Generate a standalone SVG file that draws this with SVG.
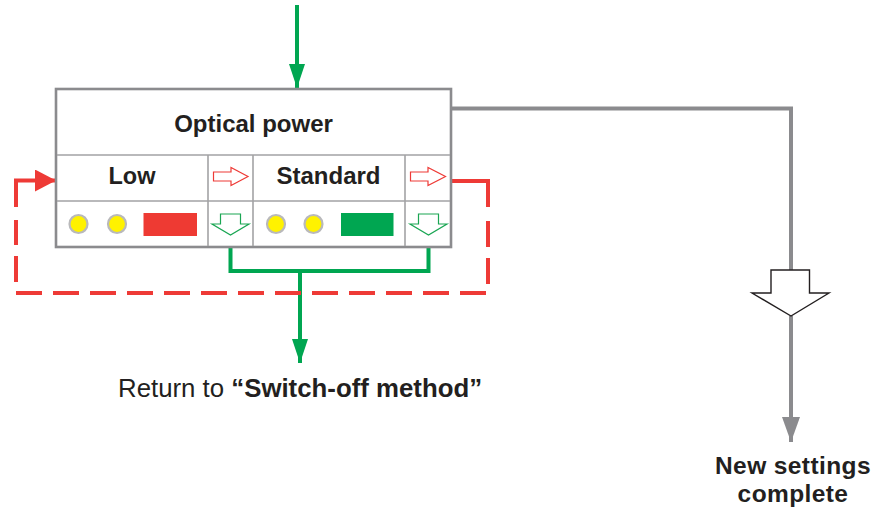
<svg xmlns="http://www.w3.org/2000/svg" width="886" height="515" viewBox="0 0 886 515">
<style>
.txt{font-family:"Liberation Sans",Arial,sans-serif;fill:#231f20}
.b{font-weight:bold}
.grid{stroke:#a3a3a5;stroke-width:1.6;fill:none}
.frame{stroke:#8b8b8e;stroke-width:2.6;fill:#fff}
.lamp{fill:#fff200;stroke:#b9b9bb;stroke-width:2.2}
.redarr{fill:#fff;stroke:#ee3a36;stroke-width:1.2}
.grnarr{fill:#fff;stroke:#1aa653;stroke-width:1.2}
.green{stroke:#00a651;stroke-width:4;fill:none}
.red{stroke:#ee3a36;stroke-width:4;fill:none}
.gray{stroke:#8b8b8e;stroke-width:4;fill:none}
</style>
<defs>
<marker id="mg" markerUnits="userSpaceOnUse" markerWidth="26" markerHeight="18" refX="24" refY="8" orient="auto"><path d="M0,0 L24,8 L0,16 z" fill="#00a651"/></marker>
<marker id="mgr" markerUnits="userSpaceOnUse" markerWidth="27" markerHeight="20" refX="25" refY="9" orient="auto"><path d="M0,0 L25,9 L0,18 z" fill="#8b8b8e"/></marker>
<marker id="mr" markerUnits="userSpaceOnUse" markerWidth="23" markerHeight="24" refX="21" refY="11" orient="auto"><path d="M0,0 L21,11 L0,22 z" fill="#ee3a36"/></marker>
</defs>

<g id="connectors">
  <path class="green" d="M297,5 V88" marker-end="url(#mg)"/>
  <path class="gray" d="M451,108.5 H791 V270"/>
  <path class="gray" d="M791,316 V442" marker-end="url(#mgr)"/>
  <path class="green" d="M230.5,236 V271 H428.5 V236"/>
  <path class="green" d="M300,271 V363" marker-end="url(#mg)"/>
  <path class="red" d="M452,181 H488 V207"/>
  <path class="red" d="M488,221 V293 H16 V220" stroke-dasharray="26 11"/>
  <path class="red" d="M16,207 V180.5 H56" marker-end="url(#mr)"/>
</g>

<g id="optical-power-table">
  <rect class="frame" x="56" y="89" width="395" height="158"/>
  <path class="grid" d="M57,155 H450 M57,201 H450 M208,155 V246 M253,155 V246 M405,155 V246"/>
  <text class="txt b" x="253.5" y="132" font-size="24" text-anchor="middle">Optical power</text>
</g>

<g id="low">
  <text class="txt b" x="132" y="184" font-size="23.5" text-anchor="middle">Low</text>
  <circle class="lamp" cx="78.5" cy="224" r="9"/>
  <circle class="lamp" cx="117" cy="224" r="9"/>
  <rect x="143.5" y="213" width="53.5" height="23" fill="#ee3a33"/>
  <polygon class="redarr" points="213.5,172 231,172 231,167.5 248,176.5 231,185.5 231,181 213.5,181"/>
  <polygon class="grnarr" points="220.5,214 240.5,214 240.5,224 249,224 230.5,235 212,224 220.5,224"/>
</g>

<g id="standard">
  <text class="txt b" x="328.5" y="184" font-size="24" text-anchor="middle">Standard</text>
  <circle class="lamp" cx="276" cy="224" r="9"/>
  <circle class="lamp" cx="313.5" cy="224" r="9"/>
  <rect x="341" y="213" width="52.5" height="23" fill="#00a651"/>
  <polygon class="redarr" points="410.5,172 428,172 428,167.5 445.5,176.5 428,185.5 428,181 410.5,181"/>
  <polygon class="grnarr" points="418.5,214 438.5,214 438.5,224 447,224 428.5,235 410,224 418.5,224"/>
</g>

<g id="return-label">
  <text class="txt" x="118" y="397" font-size="25.8">Return to <tspan class="b">“Switch-off method”</tspan></text>
</g>

<g id="new-settings">
  <polygon points="771,270 809.5,270 809.5,293 829,293 791,316 752,293 771,293" fill="#fff" stroke="#231f20" stroke-width="1.4"/>
  <text class="txt b" font-size="24.5" letter-spacing="0.4" text-anchor="middle"><tspan x="793" y="474">New settings</tspan><tspan x="793" y="502">complete</tspan></text>
</g>
</svg>
